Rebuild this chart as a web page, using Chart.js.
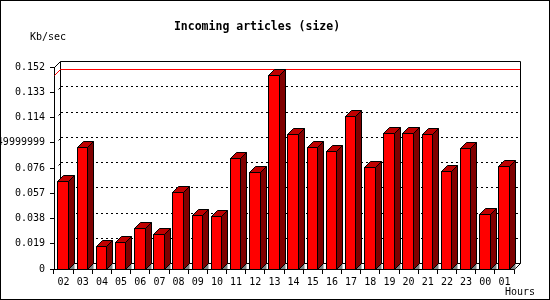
<!DOCTYPE html>
<html><head><meta charset="utf-8">
<style>html,body{margin:0;padding:0;background:#fff;}canvas{display:block;}</style>
<script src="https://cdn.jsdelivr.net/npm/chart.js@4/dist/chart.umd.min.js"></script>
</head><body>
<canvas id="c" width="550" height="300"></canvas>
<script>
const hours = ['02','03','04','05','06','07','08','09','10','11','12','13','14','15','16','17','18','19','20','21','22','23','00','01'];
const kbPerSec = [0.0662,0.0918,0.0173,0.0201,0.0309,0.0263,0.0579,0.0406,0.0397,0.0835,0.0730,0.1460,0.1016,0.0918,0.0888,0.1151,0.0765,0.1023,0.1023,0.1016,0.0737,0.0910,0.0414,0.0775];
const yTickValues = [0,0.019,0.038,0.057,0.076,0.095,0.114,0.133,0.152];
const yTickLabels = ['0','0.019','0.038','0.057','0.076','0.0949999999','0.114','0.133','0.152'];
const chartTitle = 'Incoming articles (size)';
const yAxisTitle = 'Kb/sec';
const xAxisTitle = 'Hours';

const DEPTH = 6;
const MONO = '"DejaVu Sans Mono", "Liberation Mono", monospace';

const threeD = {
  id: 'threeD',
  beforeDatasetsDraw(chart) {
    const {ctx, chartArea: a, scales: {y}} = chart;
    const L = Math.round(a.left), R = Math.round(a.right), T = Math.round(a.top), B = Math.round(a.bottom), d = DEPTH;
    ctx.save();
    ctx.lineWidth = 1;
    ctx.strokeStyle = '#000';
    // dotted grid lines on the back wall
    ctx.setLineDash([2,3]);
    yTickValues.forEach((v,i) => {
      if (i === 0 || i === yTickValues.length-1) return;
      const yy = Math.round(y.getPixelForValue(v)) - d + 0.5;
      ctx.beginPath(); ctx.moveTo(L+d+1, yy); ctx.lineTo(R+d, yy); ctx.stroke();
    });
    ctx.setLineDash([]);
    // small marks left of back wall
    yTickValues.forEach((v,i) => {
      if (i === 0 || i === yTickValues.length-1) return;
      const yy = Math.round(y.getPixelForValue(v)) - d;
      ctx.beginPath(); ctx.moveTo(L+d-2+0.5, yy+3+0.5); ctx.lineTo(L+d+0.5, yy+1+0.5); ctx.stroke();
    });
    // back frame
    ctx.beginPath();
    ctx.moveTo(L+0.5, T+0.5); ctx.lineTo(L+d+0.5, T-d+0.5);
    ctx.lineTo(R+d+0.5, T-d+0.5); ctx.lineTo(R+d+0.5, B-d+0.5); ctx.lineTo(R+0.5, B+0.5);
    ctx.moveTo(L+d+0.5, T-d+0.5); ctx.lineTo(L+d+0.5, B-d+0.5); ctx.lineTo(R+d+0.5, B-d+0.5);
    ctx.stroke();
    // peak line
    const peak = Math.max(...kbPerSec);
    const yp = Math.round(y.getPixelForValue(peak));
    ctx.strokeStyle = '#ff0000';
    ctx.beginPath();
    ctx.moveTo(L+0.5, yp+0.5); ctx.lineTo(L+d+0.5, yp-d+0.5); ctx.lineTo(R+d, yp-d+0.5);
    ctx.stroke();
    ctx.restore();
  },
  afterDatasetsDraw(chart) {
    const {ctx} = chart, d = DEPTH;
    const meta = chart.getDatasetMeta(0);
    ctx.save();
    ctx.lineWidth = 1;
    ctx.strokeStyle = '#000';
    meta.data.forEach(bar => {
      const {x, y, base, width} = bar.getProps(['x','y','base','width'], true);
      const xl = Math.floor(x - width/2);
      const xr = Math.floor(x + width/2);
      const rx = xr - 1;
      const yt = Math.round(y);
      const yb = Math.round(base);
      // front face
      ctx.fillStyle = '#ff0000';
      ctx.fillRect(xl, yt, xr - xl, yb - yt + 1);
      ctx.strokeRect(xl + 0.5, yt + 0.5, xr - xl - 1, yb - yt);
      // floor shadow
      ctx.fillStyle = '#808080';
      ctx.beginPath();
      ctx.moveTo(rx+0.5, yb+0.5); ctx.lineTo(rx+d+0.5, yb-d+0.5); ctx.lineTo(rx+d+0.5, yb+0.5); ctx.closePath();
      ctx.fill();
      // side face
      ctx.fillStyle = '#800000';
      ctx.beginPath();
      ctx.moveTo(rx+0.5, yt+0.5); ctx.lineTo(rx+d+0.5, yt-d+0.5); ctx.lineTo(rx+d+0.5, yb-d+0.5); ctx.lineTo(rx+0.5, yb+0.5); ctx.closePath();
      ctx.fill(); ctx.stroke();
      // top face
      ctx.fillStyle = '#c00000';
      ctx.beginPath();
      ctx.moveTo(xl+0.5, yt+0.5); ctx.lineTo(xl+d+0.5, yt-d+0.5); ctx.lineTo(rx+d+0.5, yt-d+0.5); ctx.lineTo(rx+0.5, yt+0.5); ctx.closePath();
      ctx.fill(); ctx.stroke();
    });
    // re-draw front axis line over bars' bottom
    const a = chart.chartArea;
    ctx.beginPath();
    ctx.moveTo(Math.round(a.left)+0.5, Math.round(a.bottom)+0.5);
    ctx.lineTo(Math.round(a.right)+0.5, Math.round(a.bottom)+0.5);
    ctx.stroke();
    ctx.restore();
  },
  afterDraw(chart) {
    const {ctx} = chart;
    ctx.save();
    ctx.fillStyle = '#000';
    ctx.font = '10px ' + MONO;
    ctx.textBaseline = 'middle';
    ctx.textAlign = 'left';
    ctx.fillText(yAxisTitle, 30, 37);
    ctx.fillText(xAxisTitle, 505, 292);
    ctx.strokeStyle = '#000';
    ctx.lineWidth = 1;
    ctx.strokeRect(0.5, 0.5, 549, 299);
    ctx.restore();
  }
};

new Chart(document.getElementById('c'), {
  type: 'bar',
  data: {
    labels: hours,
    datasets: [{
      data: kbPerSec,
      backgroundColor: '#ff0000',
      borderColor: '#000000',
      borderWidth: 1,
      borderSkipped: false,
      barPercentage: 0.6,
      categoryPercentage: 1.0
    }]
  },
  options: {
    responsive: false,
    animation: false,
    devicePixelRatio: 1,
    events: [],
    layout: { padding: { left: 0, right: 36, top: 0, bottom: 0 } },
    plugins: {
      legend: { display: false },
      tooltip: { enabled: false },
      title: {
        display: true,
        text: chartTitle,
        color: '#000',
        font: { family: MONO, size: 11.5, weight: 'bold', lineHeight: 1.2 },
        padding: { top: 20, bottom: 33.2 }
      }
    },
    scales: {
      x: {
        offset: true,
        grid: { drawOnChartArea: false, offset: true, tickLength: 5, color: '#000' },
        border: { display: true, color: '#000' },
        ticks: { color: '#000', font: { family: MONO, size: 10 }, padding: 2, maxRotation: 0, autoSkip: false },
        afterFit: (s) => { s.height = 31; }
      },
      y: {
        min: 0,
        max: 0.152,
        grid: { drawOnChartArea: false, tickLength: 4, color: '#000' },
        border: { display: true, color: '#000' },
        ticks: {
          color: '#000', font: { family: MONO, size: 10 }, padding: 5, autoSkip: false,
          callback: (v, i) => yTickLabels[i]
        },
        afterBuildTicks: (s) => { s.ticks = yTickValues.map(v => ({ value: v })); },
        afterFit: (s) => { s.width = 54; }
      }
    }
  },
  plugins: [threeD]
});
</script>
</body></html>
